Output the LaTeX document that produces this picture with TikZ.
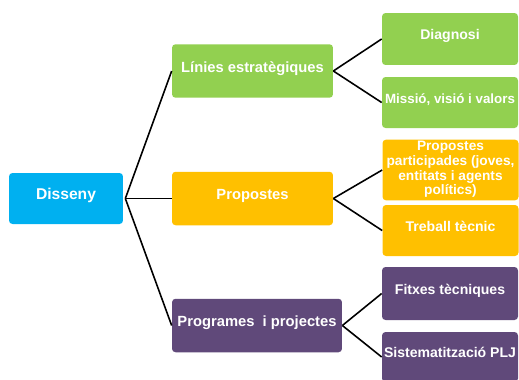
\documentclass[tikz,border=0pt]{standalone}
\usepackage{fontspec}
\setmainfont{Liberation Sans}
\usetikzlibrary{positioning}
\definecolor{dblue}{RGB}{0,176,240}
\definecolor{dgreen}{RGB}{146,208,80}
\definecolor{dyellow}{RGB}{255,192,0}
\definecolor{dpurple}{RGB}{96,73,122}
\newcommand\tightlines{\lineskiplimit=-8pt\relax}
\tikzset{
	mapnode/.style = {
		rectangle,
		rounded corners=0.07cm,
		align=center,
		inner sep=1pt,
		text=white,
		text depth=0.17cm,
		font=\fontsize{8}{9.5}\selectfont\bfseries,
		minimum width=2.72cm,
		minimum height=1.04cm
	},
	node_root/.style = {
		mapnode,
		fill=dblue,
		font=\fontsize{8.9}{11}\selectfont\bfseries,
		minimum width=2.28cm,
		minimum height=1.02cm
	},
	node_mid/.style = {
		mapnode,
		minimum width=3.22cm,
		minimum height=1.07cm,
		font=\fontsize{8.4}{10}\selectfont\bfseries
	},
	node_g/.style = {
		mapnode,
		fill=dgreen
	},
	node_y/.style = {
		mapnode,
		fill=dyellow
	},
	node_p/.style = {
		mapnode,
		fill=dpurple
	},
	branch/.style = {
		draw=black,
		line width=0.9pt
	},
}

\begin{document}
\begin{tikzpicture}[x=0.02cm, y=-0.02cm]
\useasboundingbox (0,0) rectangle (519,379);
\clip (0,0) rectangle (519,379);
% first level
\node [node_root] (dis) at (66,198.5) {Disseny};
\node [node_g, node_mid] (lin) at (252.5,71) {Línies estratègiques};
\node [node_y, node_mid] (pro) at (252.5,198.5) {Propostes};
\node [node_p, node_mid, minimum width=3.4cm] (prg) at (257,325.5) {Programes\ \ i projectes};
% second level
\node [node_g] (dia) at (450,39) {Diagnosi};
\node [node_g, minimum height=1.02cm, font=\fontsize{7.6}{9}\selectfont\bfseries] (mis) at (450,102.5) {Missió, visió i valors};
\node [node_y, minimum height=1.12cm, text depth=0.08cm, font=\fontsize{7.8}{7.5}\selectfont\bfseries\tightlines] (ppa) at (450.5,170) {Propostes\\[0.8pt]participades (joves,\\[0.8pt]entitats i agents\\[0.8pt]polítics)};
\node [node_y, minimum height=1.02cm] (tre) at (450.5,230.5) {Treball tècnic};
\node [node_p, minimum height=1.06cm] (fit) at (450,293.5) {Fitxes tècniques};
\node [node_p, minimum height=1.00cm] (sis) at (450,357) {Sistematització PLJ};
% connectors
\coordinate (j0) at ([xshift=0.04cm]dis.east);
\draw [branch] (j0) -- (lin.west);
\draw [branch] (j0) -- (pro.west);
\draw [branch] (j0) -- (prg.west);
\draw [branch] (lin.east) -- (dia.west);
\draw [branch] (lin.east) -- (mis.west);
\draw [branch] (pro.east) -- (ppa.west);
\draw [branch] (pro.east) -- (tre.west);
\draw [branch] (prg.east) -- (fit.west);
\draw [branch] (prg.east) -- (sis.west);
\end{tikzpicture}
\end{document}
